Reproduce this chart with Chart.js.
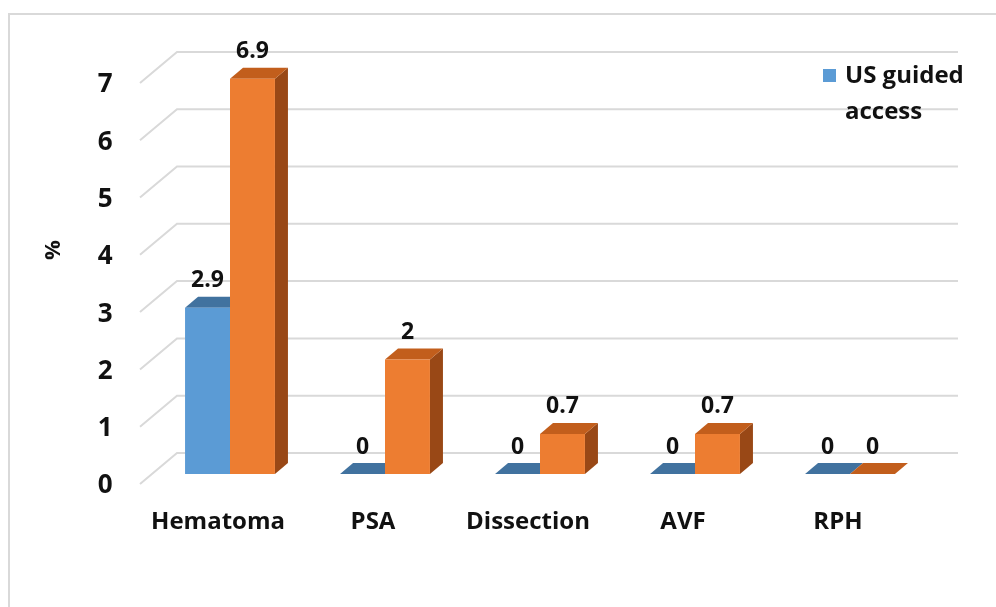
<!DOCTYPE html>
<html>
<head>
<meta charset="utf-8">
<script src="https://cdn.jsdelivr.net/npm/chart.js@4/dist/chart.umd.min.js"></script>
<style>
  html, body { margin: 0; padding: 0; background: #ffffff; }
  #wrap { position: relative; width: 996px; height: 607px; }
  canvas { display: block; }
</style>
</head>
<body>
<div id="wrap"><canvas id="chart" width="996" height="607"></canvas></div>
<script>
// Complication rates (%) by access technique
const categories = ['Hematoma', 'PSA', 'Dissection', 'AVF', 'RPH'];
const usGuidedValues = [2.9, 0, 0, 0, 0];
const otherAccessValues = [6.9, 2, 0.7, 0.7, 0];
const usGuidedLabel = 'US guided access';
const yTickValues = [0, 1, 2, 3, 4, 5, 6, 7];

const FONT = '"Open Sans", "Liberation Sans", sans-serif';
const TEXT = '#111111';

// front / top / side shades for each series
const palette = [
  { front: '#5B9BD5', top: '#41729F', side: '#3A6690' },
  { front: '#ED7D31', top: '#C25E1C', side: '#994816' }
];

// depth of the pseudo-3D extrusion
const DEPTH = { dx: 13, dy: -11 };

const threeD = {
  id: 'threeD',
  beforeDraw(chart) {
    const ctx = chart.ctx;
    ctx.save();
    ctx.strokeStyle = '#d9d9d9';
    ctx.lineWidth = 2;
    ctx.strokeRect(9, 14, 1200, 800);
    ctx.restore();
  },
  beforeDatasetsDraw(chart) {
    const ctx = chart.ctx;
    const area = chart.chartArea;
    const y = chart.scales.y;
    // back-wall grid lines plus the slanted floor edge on the left
    ctx.save();
    ctx.strokeStyle = '#d9d9d9';
    ctx.lineWidth = 2;
    y.ticks.forEach(t => {
      const py = y.getPixelForValue(t.value);
      ctx.beginPath();
      ctx.moveTo(area.left - 12.5, py + 10);
      ctx.lineTo(area.left + 24.5, py - 21);
      ctx.lineTo(area.right + 30.5, py - 21);
      ctx.stroke();
    });
    // top and side faces of every bar
    chart.data.datasets.forEach((ds, di) => {
      const meta = chart.getDatasetMeta(di);
      const col = palette[di];
      meta.data.forEach(bar => {
        const l = bar.x - bar.width / 2;
        const r = bar.x + bar.width / 2;
        const top = bar.y;
        const base = bar.base;
        ctx.fillStyle = col.side;
        ctx.beginPath();
        ctx.moveTo(r, top);
        ctx.lineTo(r + DEPTH.dx, top + DEPTH.dy);
        ctx.lineTo(r + DEPTH.dx, base + DEPTH.dy);
        ctx.lineTo(r, base);
        ctx.closePath();
        ctx.fill();
        ctx.fillStyle = col.top;
        ctx.beginPath();
        ctx.moveTo(l, top);
        ctx.lineTo(r, top);
        ctx.lineTo(r + DEPTH.dx, top + DEPTH.dy);
        ctx.lineTo(l + DEPTH.dx, top + DEPTH.dy);
        ctx.closePath();
        ctx.fill();
      });
    });
    ctx.restore();
  },
  afterDatasetsDraw(chart) {
    const ctx = chart.ctx;
    ctx.save();
    // value labels above the bars
    ctx.fillStyle = TEXT;
    ctx.font = 'bold 23px ' + FONT;
    ctx.textAlign = 'center';
    ctx.textBaseline = 'middle';
    chart.data.datasets.forEach((ds, di) => {
      const meta = chart.getDatasetMeta(di);
      meta.data.forEach((bar, i) => {
        ctx.fillText(String(ds.data[i]), bar.x, bar.y - 27);
      });
    });
    // axis unit, rotated
    ctx.save();
    ctx.translate(54, 250);
    ctx.rotate(-Math.PI / 2);
    ctx.font = 'bold 22px ' + FONT;
    ctx.fillText('%', 0, 0);
    ctx.restore();
    // legend: swatch plus wrapped series name
    const lx = 823, ly = 69;
    ctx.fillStyle = palette[0].front;
    ctx.fillRect(lx, ly, 13, 13);
    ctx.fillStyle = TEXT;
    ctx.font = 'bold 24px ' + FONT;
    ctx.textAlign = 'left';
    const words = chart.data.datasets[0].label.split(' ');
    const lines = [words.slice(0, 2).join(' '), words.slice(2).join(' ')];
    lines.forEach((ln, k) => ctx.fillText(ln, 845, 76 + k * 36));
    ctx.restore();
  }
};

new Chart(document.getElementById('chart'), {
  type: 'bar',
  data: {
    labels: categories,
    datasets: [
      {
        label: usGuidedLabel,
        data: usGuidedValues,
        backgroundColor: palette[0].front,
        borderWidth: 0
      },
      {
        data: otherAccessValues,
        backgroundColor: palette[1].front,
        borderWidth: 0
      }
    ]
  },
  options: {
    responsive: false,
    animation: false,
    events: [],
    layout: { padding: { top: 72.9, right: 68.5, bottom: 0, left: 20 } },
    datasets: { bar: { categoryPercentage: 0.58, barPercentage: 1 } },
    plugins: {
      legend: { display: false },
      tooltip: { enabled: false }
    },
    scales: {
      x: {
        grid: { display: false, drawTicks: false },
        border: { display: false },
        ticks: {
          color: TEXT,
          font: { family: FONT, size: 24, weight: 'bold' },
          padding: 34,
          labelOffset: -12,
          maxRotation: 0
        },
        afterFit(s) { s.height = 607 - 474; }
      },
      y: {
        min: 0,
        max: 7,
        grid: { display: false, drawTicks: false },
        border: { display: false },
        afterBuildTicks(s) { s.ticks = yTickValues.map(v => ({ value: v })); },
        ticks: {
          color: TEXT,
          font: { family: FONT, size: 26, weight: 'bold' },
          padding: 40,
          labelOffset: 12
        },
        afterFit(s) { s.width = 152.5 - 20; }
      }
    }
  },
  plugins: [threeD]
});
</script>
</body>
</html>
